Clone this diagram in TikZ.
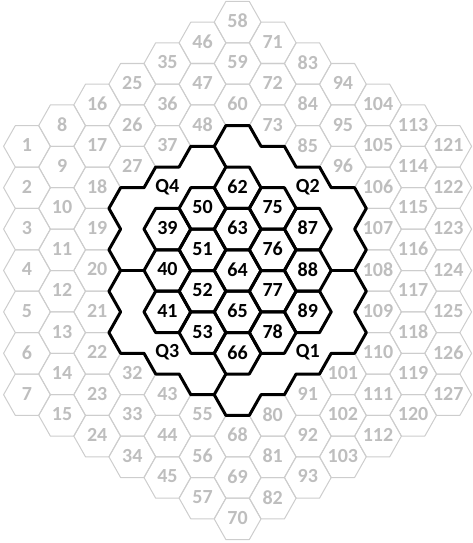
\documentclass[tikz,border=0pt]{standalone}
\usepackage{fontspec}
\setmainfont{Carlito}
\definecolor{hexgray}{RGB}{205,205,205}
\definecolor{txtgray}{RGB}{190,190,190}
\newcount\hexnum
\begin{document}
\begin{tikzpicture}[x=1pt,y=-1pt,
  grayhex/.style={draw=hexgray, line width=1pt, line join=round},
  blackhex/.style={draw=black, line width=3pt, line join=round},
  graylbl/.style={text=txtgray, font=\fontsize{20}{20}\selectfont\bfseries, inner sep=0pt, yshift=1pt},
  blacklbl/.style={text=black, font=\fontsize{20}{20}\selectfont\bfseries, inner sep=0pt, yshift=1pt},
  outline/.style={draw=black, line width=3pt, line join=round, line cap=round}]
\useasboundingbox (0,0) rectangle (473,543);
\def\xo{237.6}\def\yo{270.5}\def\ha{23.4}\def\hh{20.7}
\global\hexnum=0
\foreach \q in {-6,...,6}{
  \pgfmathtruncatemacro\n{13-abs(\q)}
  \pgfmathtruncatemacro\nm{\n-1}
  \foreach \k in {0,...,\nm}{
    \global\advance\hexnum by 1
    \edef\num{\the\hexnum}
    \pgfmathsetmacro\yrel{\k-(\n-1)/2}
    \pgfmathsetmacro\rr{(\yrel)-(\q)/2}
    \pgfmathtruncatemacro\dist{max(abs(\q),abs(\rr),abs((\q)+(\rr)))}
    \pgfmathsetmacro\cx{\xo+1.5*\ha*(\q)}
    \pgfmathsetmacro\cy{\yo+2*\hh*(\yrel)}
    \ifnum\dist>3
      \draw[grayhex] (\cx+\ha,\cy) -- ++(-\ha/2,\hh) -- ++(-\ha,0) -- ++(-\ha/2,-\hh) -- ++(\ha/2,-\hh) -- ++(\ha,0) -- cycle;
      \node[graylbl] (h\num) at (\cx,\cy) {\num};
    \fi
    \ifnum\dist<3
      \draw[blackhex] (\cx+\ha,\cy) -- ++(-\ha/2,\hh) -- ++(-\ha,0) -- ++(-\ha/2,-\hh) -- ++(\ha/2,-\hh) -- ++(\ha,0) -- cycle;
      \node[blacklbl] (h\num) at (\cx,\cy) {\num};
    \fi
  }
}
% outline of the radius-3 region
\foreach \m/\t [count=\i] in {-0.5/-3.5, 0.5/-3.5, 1/-3, 2/-3, 2.5/-2.5, 3.5/-2.5, 4/-2, 5/-2,
  5.5/-1.5, 5/-1, 5.5/-0.5, 5/0, 5.5/0.5, 5/1, 5.5/1.5, 5/2, 4/2, 3.5/2.5, 2.5/2.5, 2/3, 1/3,
  0.5/3.5, -0.5/3.5, -1/3, -2/3, -2.5/2.5, -3.5/2.5, -4/2, -5/2, -5.5/1.5, -5/1, -5.5/0.5,
  -5/0, -5.5/-0.5, -5/-1, -5.5/-1.5, -5/-2, -4/-2, -3.5/-2.5, -2.5/-2.5, -2/-3, -1/-3}
  {\coordinate (o\i) at ({\xo+(\m)*\ha},{\yo+2*(\t)*\hh});}
\coordinate (dT) at ({\xo-0.5*\ha},{\yo-5*\hh});
\coordinate (dB) at ({\xo-0.5*\ha},{\yo+5*\hh});
\coordinate (dL) at ({\xo-4*\ha},{\yo});
\coordinate (dR) at ({\xo+4*\ha},{\yo});
\draw[outline] (o1) \foreach \i in {2,...,42}{ -- (o\i)} -- cycle;
\draw[outline] (dT) -- (o42);
\draw[outline] (dB) -- (o24);
\draw[outline] (dL) -- (o33);
\draw[outline] (dR) -- (o12);
% quadrant labels
\node[blacklbl] (q4) at ({\xo-3*\ha},{\yo-4*\hh}) {Q4};
\node[blacklbl] (q2) at ({\xo+3*\ha},{\yo-4*\hh}) {Q2};
\node[blacklbl] (q3) at ({\xo-3*\ha},{\yo+4*\hh}) {Q3};
\node[blacklbl] (q1) at ({\xo+3*\ha},{\yo+4*\hh}) {Q1};
\end{tikzpicture}
\end{document}
